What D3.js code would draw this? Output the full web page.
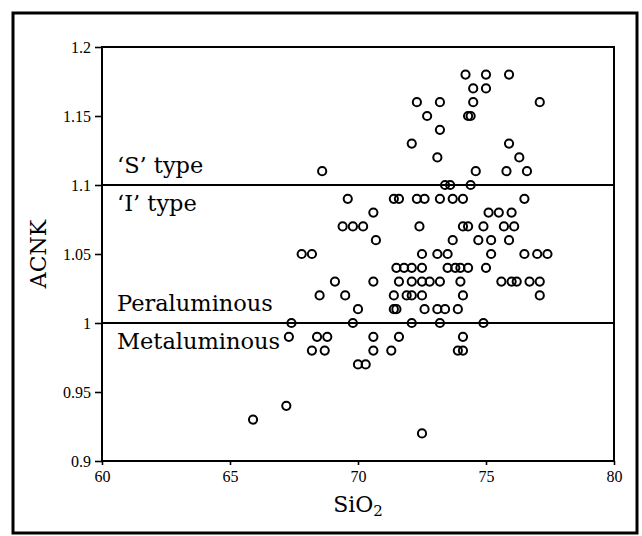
<!DOCTYPE html>
<html>
<head>
<meta charset="utf-8">
<script src="https://cdn.jsdelivr.net/npm/d3@7"></script>
<style>
  html, body { margin: 0; padding: 0; background: #fff; }
  svg { display: block; }
</style>
</head>
<body>
<svg id="chart" width="642" height="536"></svg>
<script>
// ---- data ----
const sio2 = [
  74.2, 75.0, 75.9,
  74.5, 75.0,
  72.3, 73.2, 74.5, 77.1,
  72.7, 74.3, 74.4,
  73.2,
  72.1, 75.9,
  73.1, 76.3,
  68.6, 74.6, 75.8, 76.6,
  73.4, 73.6, 74.4,
  69.6, 71.4, 71.6, 72.3, 72.6, 73.2, 73.7, 74.1, 76.5,
  70.6, 75.1, 75.5, 76.0,
  69.4, 69.8, 70.2, 72.4, 74.1, 74.3, 74.9, 75.7, 76.1,
  70.7, 73.7, 74.7, 75.2, 75.9,
  67.8, 68.2, 72.5, 73.1, 73.5, 75.2, 76.5, 77.0, 77.4,
  71.5, 71.8, 72.1, 72.5, 73.5, 73.8, 74.0, 74.3, 75.0,
  69.1, 70.6, 71.6, 72.1, 72.5, 72.8, 73.2, 74.0, 75.6, 76.0, 76.2, 76.7, 77.1,
  68.5, 69.5, 71.4, 71.9, 72.1, 72.5, 74.1, 77.1,
  70.0, 71.4, 71.5, 72.6, 73.1, 73.4, 73.9,
  67.4, 69.8, 72.1, 73.2, 74.9,
  67.3, 68.4, 68.8, 70.6, 71.6, 74.1,
  68.2, 68.7, 70.6, 71.3, 73.9, 74.1,
  70.0, 70.3,
  67.2,
  65.9,
  72.5
];
const acnk = [
  1.18, 1.18, 1.18,
  1.17, 1.17,
  1.16, 1.16, 1.16, 1.16,
  1.15, 1.15, 1.15,
  1.14,
  1.13, 1.13,
  1.12, 1.12,
  1.11, 1.11, 1.11, 1.11,
  1.10, 1.10, 1.10,
  1.09, 1.09, 1.09, 1.09, 1.09, 1.09, 1.09, 1.09, 1.09,
  1.08, 1.08, 1.08, 1.08,
  1.07, 1.07, 1.07, 1.07, 1.07, 1.07, 1.07, 1.07, 1.07,
  1.06, 1.06, 1.06, 1.06, 1.06,
  1.05, 1.05, 1.05, 1.05, 1.05, 1.05, 1.05, 1.05, 1.05,
  1.04, 1.04, 1.04, 1.04, 1.04, 1.04, 1.04, 1.04, 1.04,
  1.03, 1.03, 1.03, 1.03, 1.03, 1.03, 1.03, 1.03, 1.03, 1.03, 1.03, 1.03, 1.03,
  1.02, 1.02, 1.02, 1.02, 1.02, 1.02, 1.02, 1.02,
  1.01, 1.01, 1.01, 1.01, 1.01, 1.01, 1.01,
  1.00, 1.00, 1.00, 1.00, 1.00,
  0.99, 0.99, 0.99, 0.99, 0.99, 0.99,
  0.98, 0.98, 0.98, 0.98, 0.98, 0.98,
  0.97, 0.97,
  0.94,
  0.93,
  0.92
];
const xTicks = [60, 65, 70, 75, 80];
const yTicks = [0.9, 0.95, 1, 1.05, 1.1, 1.15, 1.2];
const yTickLabels = ["0.9", "0.95", "1", "1.05", "1.1", "1.15", "1.2"];
const refLines = [1.1, 1.0];
const regionLabels = [
  { text: "\u2018S\u2019 type", at: 1.1, side: "above" },
  { text: "\u2018I\u2019 type", at: 1.1, side: "below" },
  { text: "Peraluminous", at: 1.0, side: "above" },
  { text: "Metaluminous", at: 1.0, side: "below" }
];
const xTitle = "SiO";
const xTitleSub = "2";
const yTitle = "ACNK";

// ---- drawing ----
const svg = d3.select("#chart");
const x = d3.scaleLinear().domain([60, 80]).range([102, 614]);
const y = d3.scaleLinear().domain([0.9, 1.2]).range([461, 47]);

// outer frame
svg.append("rect")
  .attr("x", 13).attr("y", 13).attr("width", 624).attr("height", 520)
  .attr("fill", "none").attr("stroke", "#000").attr("stroke-width", 3);

const tickFont = "'Liberation Serif', 'Times New Roman', serif";
const labelFont = "'DejaVu Serif', serif";

// axes
const yAxis = d3.axisLeft(y).tickValues(yTicks)
  .tickFormat((d, i) => yTickLabels[i]).tickSize(7).tickPadding(4);
const gy = svg.append("g").attr("transform", `translate(${x(60)},0)`).call(yAxis);
gy.select(".domain").remove();
gy.selectAll("line").attr("stroke", "#000").attr("stroke-width", 1.6);
gy.selectAll("text").attr("font-family", tickFont).attr("font-size", 16).attr("fill", "#000");

const xAxis = d3.axisBottom(x).tickValues(xTicks).tickFormat(d3.format("d")).tickSize(4).tickPadding(6);
const gx = svg.append("g").attr("transform", `translate(0,${y(0.9)})`).call(xAxis);
gx.select(".domain").remove();
gx.selectAll("line").attr("stroke", "#000").attr("stroke-width", 1.6);
gx.selectAll("text").attr("font-family", tickFont).attr("font-size", 16).attr("fill", "#000");

// plot frame
svg.append("rect")
  .attr("x", x(60)).attr("y", y(1.2))
  .attr("width", x(80) - x(60)).attr("height", y(0.9) - y(1.2))
  .attr("fill", "none").attr("stroke", "#000").attr("stroke-width", 2);

// reference lines
svg.selectAll("line.ref").data(refLines).join("line")
  .attr("class", "ref")
  .attr("x1", x(60)).attr("x2", x(80))
  .attr("y1", d => y(d)).attr("y2", d => y(d))
  .attr("stroke", "#000").attr("stroke-width", 2);

// region labels
svg.selectAll("text.region").data(regionLabels).join("text")
  .attr("class", "region")
  .attr("x", x(60) + 15)
  .attr("y", d => d.side === "above" ? y(d.at) - 12 : y(d.at) + 26)
  .attr("font-family", labelFont)
  .attr("font-size", 22.5)
  .attr("fill", "#000")
  .text(d => d.text);

// points
const pts = sio2.map((v, i) => ({ x: v, y: acnk[i] }));
svg.append("g").selectAll("circle").data(pts).join("circle")
  .attr("cx", d => x(d.x)).attr("cy", d => y(d.y))
  .attr("r", 4.1)
  .attr("fill", "none").attr("stroke", "#000").attr("stroke-width", 2);

// axis titles
const xt = svg.append("text")
  .attr("x", (x(60) + x(80)) / 2).attr("y", 512)
  .attr("text-anchor", "middle")
  .attr("font-family", labelFont).attr("font-size", 22).attr("fill", "#000");
xt.append("tspan").text(xTitle);
xt.append("tspan").attr("font-size", 15).attr("dy", 4).text(xTitleSub);

svg.append("text")
  .attr("transform", `translate(46,${(y(0.9) + y(1.2)) / 2}) rotate(-90)`)
  .attr("text-anchor", "middle")
  .attr("font-family", labelFont).attr("font-size", 22).attr("fill", "#000")
  .text(yTitle);
</script>
</body>
</html>
